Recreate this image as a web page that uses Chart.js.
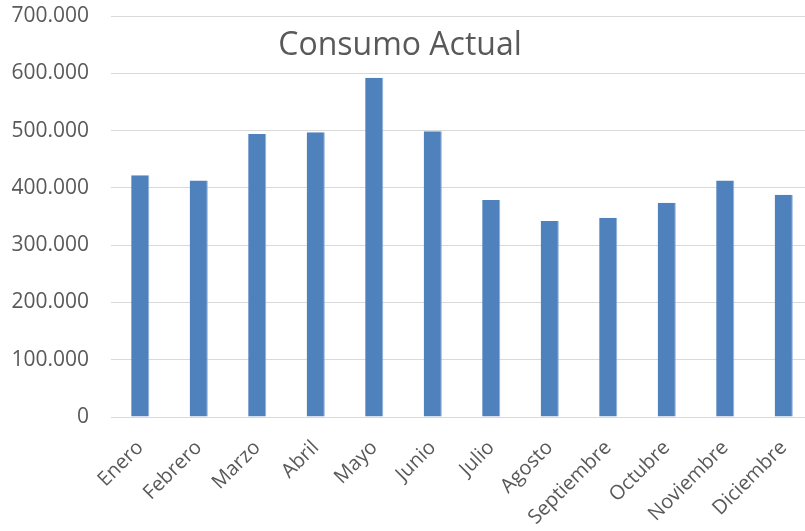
<!DOCTYPE html>
<html>
<head>
<meta charset="utf-8">
<script src="https://cdn.jsdelivr.net/npm/chart.js@4"></script>
<style>
    html, body { margin: 0; padding: 0; background: #fff; overflow: hidden; }
    #wrap { width: 813px; height: 531px; position: relative; }
</style>
</head>
<body>
<div id="wrap"><canvas id="consumoChart"></canvas></div>
<script>
const months = ["Enero", "Febrero", "Marzo", "Abril", "Mayo", "Junio", "Julio",
    "Agosto", "Septiembre", "Octubre", "Noviembre", "Diciembre"];
const consumo = [422000, 413000, 494000, 497000, 592000, 499000, 379000,
    342000, 348000, 374000, 413000, 388000];
const chartTitle = "Consumo Actual";

function formatMiles(value) {
    return String(value).replace(/\B(?=(\d{3})+(?!\d))/g, ".");
}

// title sits inside the plot, like the Excel original
const innerTitle = {
    id: "innerTitle",
    afterDraw(chart) {
        const ctx = chart.ctx;
        ctx.save();
        ctx.font = "32px 'Open Sans'";
        ctx.fillStyle = "#595959";
        ctx.textAlign = "center";
        ctx.textBaseline = "middle";
        ctx.fillText(chartTitle, 400, 46);
        ctx.restore();
    }
};

const ctx = document.getElementById("consumoChart");

new Chart(ctx, {
    type: "bar",
    data: {
        labels: months,
        datasets: [
            {
                label: chartTitle,
                data: consumo,
                backgroundColor: "#4f81bd",
                borderColor: "#8fb0d9",
                borderWidth: { right: 1 },
                borderSkipped: false,
                categoryPercentage: 0.31,
                barPercentage: 1
            }
        ]
    },
    options: {
        responsive: true,
        maintainAspectRatio: false,
        animation: false,
        layout: {
            padding: { left: 0, top: 0, right: 0, bottom: 0 }
        },
        plugins: {
            legend: { display: false },
            tooltip: { enabled: false }
        },
        scales: {
            x: {
                grid: { display: false, drawTicks: false },
                border: { color: "#d9d9d9", width: 1 },
                ticks: {
                    color: "#595959",
                    font: { family: "'Open Sans'", size: 20 },
                    maxRotation: 45,
                    minRotation: 45,
                    padding: 19,
                    autoSkip: false
                },
                afterFit(scale) {
                    scale.height = 114;
                    scale.paddingLeft = 0;
                    scale.paddingRight = 0;
                }
            },
            y: {
                min: 0,
                max: 700000,
                grid: { color: "#d9d9d9", lineWidth: 1, drawTicks: false },
                border: { display: false },
                ticks: {
                    stepSize: 100000,
                    color: "#595959",
                    font: { family: "'Open Sans'", size: 21 },
                    padding: 22,
                    callback: value => formatMiles(value)
                },
                afterFit(scale) {
                    scale.width = 111;
                    scale.paddingTop = 16;
                    scale.paddingBottom = 0;
                }
            }
        }
    },
    plugins: [innerTitle]
});
</script>
</body>
</html>
